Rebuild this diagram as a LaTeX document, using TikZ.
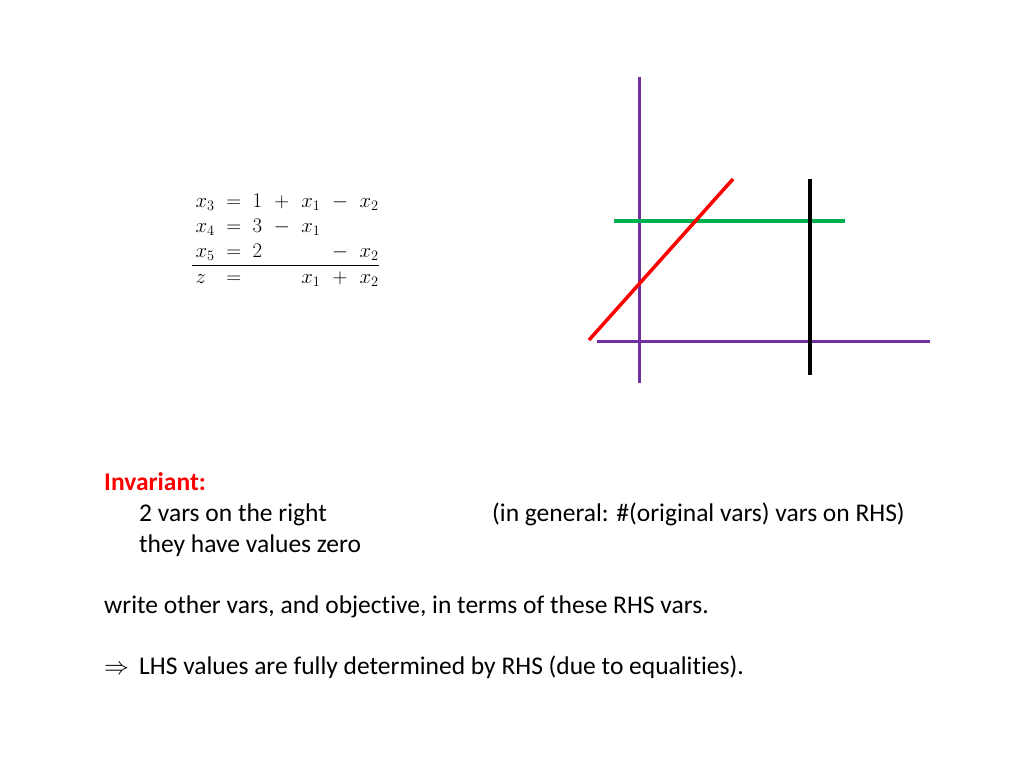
\documentclass[tikz,border=0pt]{standalone}
\usepackage{fontspec}
\setmainfont[Ligatures=NoCommon]{Carlito}
\usepackage{array}
\definecolor{purp}{RGB}{112,48,160}
\definecolor{grn}{RGB}{0,176,80}
\begin{document}
\begin{tikzpicture}[x=1pt,y=-1pt,
  txt/.style={anchor=base west,inner sep=0pt,font=\fontsize{25.5}{30}\selectfont},
  ln/.style={line width=3.5pt}]
\useasboundingbox (0,0) rectangle (1024,768);
% equations
\node[anchor=north west,inner sep=0pt] (eq) at (192,190) {\fontsize{20}{25}\selectfont
$\begin{array}{@{\,}l@{\;\;}c@{\;\;}c@{\;\;}c@{\;\;}c@{\;\;}c@{\;\;}c@{}}
x_3 & = & 1 & + & x_1 & - & x_2\\
x_4 & = & 3 & - & x_1 & & \\
x_5 & = & 2 & & & - & x_2\\
\hline
z & = & & & x_1 & + & x_2
\end{array}$};
% graph
\coordinate (vtop) at (639,77);
\coordinate (vbot) at (639,383);
\coordinate (hl) at (597,341);
\coordinate (hr) at (930,341);
\coordinate (gl) at (614,221);
\coordinate (gr) at (845,221);
\coordinate (bt) at (810,179);
\coordinate (bb) at (810,375);
\coordinate (rl) at (589,340);
\coordinate (rr) at (733,179);
\draw[purp,line width=3pt] (vtop) -- (vbot);
\draw[purp,line width=3pt] (hl) -- (hr);
\draw[grn,ln] (gl) -- (gr);
\draw[black,ln] (bt) -- (bb);
\draw[red,ln] (rl) -- (rr);
% text
\node[txt,text=red,font=\fontsize{25.5}{30}\selectfont\bfseries] (inv) at (104,490) {Invariant:};
\node[txt] (t1) at (139,521) {2 vars on the right};
\node[txt] (t1b) at (492,521) {(in general: \#(original vars) vars on RHS)};
\node[txt] (t2) at (139,552) {they have values zero};
\node[txt] (t3) at (104,613) {write other vars, and objective, in terms of these RHS vars.};
\node[txt] (t4a) at (104,674) {$\Rightarrow$};
\node[txt] (t4) at (139,674) {LHS values are fully determined by RHS (due to equalities).};
\end{tikzpicture}
\end{document}
